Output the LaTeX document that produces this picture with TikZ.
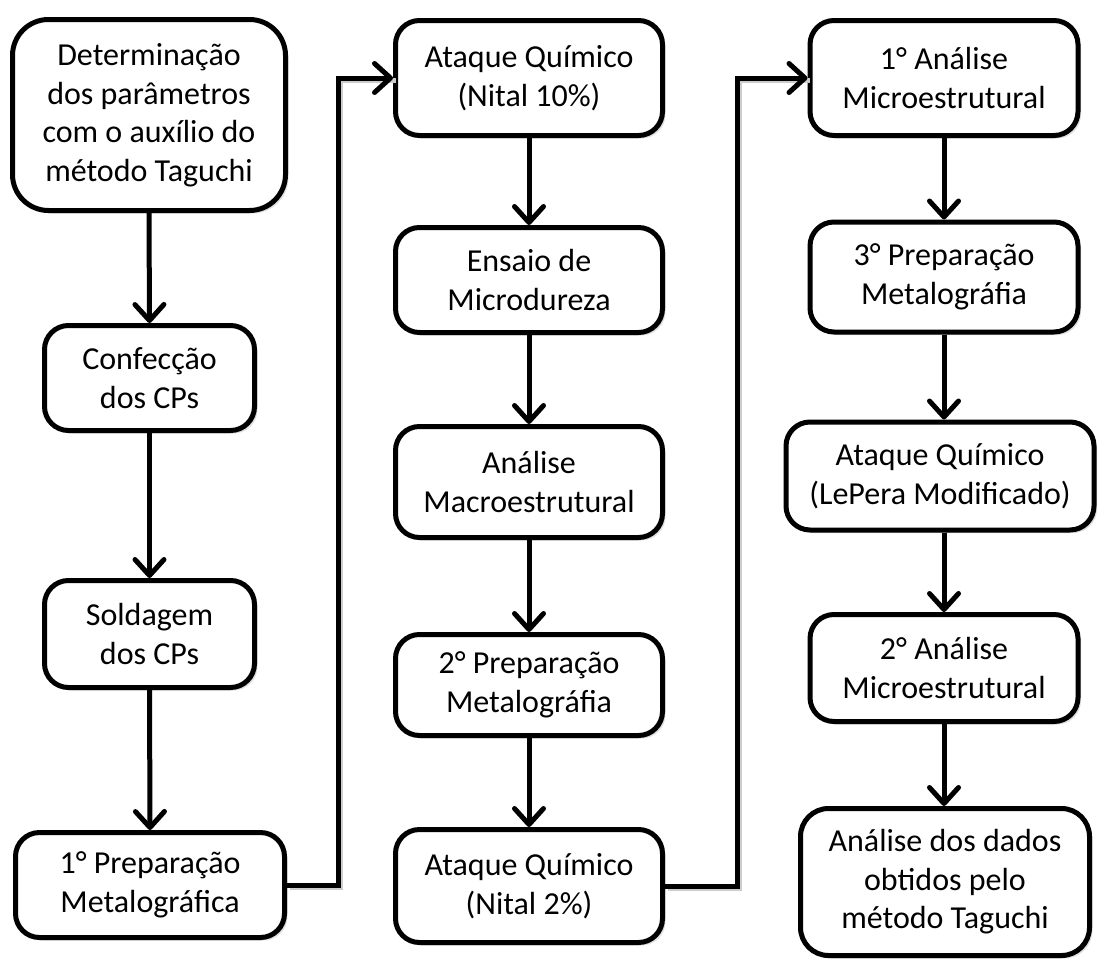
\documentclass[tikz,border=0pt]{standalone}
\usepackage{fontspec}
\setmainfont{Carlito}
\usetikzlibrary{arrows.meta,shadows}
\begin{document}
\begin{tikzpicture}[x=1pt,y=-1pt,
  stepbox/.style={draw=black, line width=5pt, fill=white, rounded corners=24pt,
    align=center, inner sep=0pt, font=\fontsize{32}{38.5}\selectfont,
    drop shadow={shadow xshift=3pt,shadow yshift=-3pt,opacity=0.25}},
  arr/.style={line width=5pt, line join=miter,
    -{Straight Barb[length=16pt,width=29pt,round]}},
  shd/.style={line width=5pt, draw=black!20, line join=miter,
    transform canvas={shift={(2.5pt,-2.5pt)}}}]
\useasboundingbox (0,0) rectangle (1100,961);
\fill[white] (0,0) rectangle (1100,961);
% column 1
\node[stepbox, rounded corners=36pt, minimum width=273pt, minimum height=191pt] (A) at (149,115)
  {Determinação\\dos parâmetros\\com o auxílio do\\método Taguchi};
\node[stepbox, minimum width=210pt, minimum height=105pt] (B) at (149.5,378) {Confecção\\dos CPs};
\node[stepbox, minimum width=210pt, minimum height=107pt] (C) at (149.5,634) {Soldagem\\dos CPs};
\node[stepbox, minimum width=269pt, minimum height=105pt] (D) at (150,885) {1° Preparação\\Metalográfica};
% column 2
\node[stepbox, minimum width=267pt, minimum height=115pt] (E) at (529,78) {Ataque Químico\\(Nital 10\%)};
\node[stepbox, minimum width=267pt, minimum height=105pt] (F) at (529,280) {Ensaio de\\Microdureza};
\node[stepbox, minimum width=267pt, minimum height=111pt] (G) at (529,482) {Análise\\Macroestrutural};
\node[stepbox, minimum width=267pt, minimum height=101pt] (H) at (529,685) {2° Preparação\\Metalográfia};
\node[stepbox, minimum width=267pt, minimum height=113pt] (I) at (529,886) {Ataque Químico\\(Nital 2\%)};
% column 3
\node[stepbox, minimum width=268pt, minimum height=115pt] (J) at (944,78) {1° Análise\\Microestrutural};
\node[stepbox, minimum width=268pt, minimum height=110pt] (K) at (944,277) {3° Preparação\\Metalográfia};
\node[stepbox, minimum width=308pt, minimum height=108pt] (L) at (940,476) {Ataque Químico\\(LePera Modificado)};
\node[stepbox, minimum width=268pt, minimum height=107pt] (M) at (944,668) {2° Análise\\Microestrutural};
\node[stepbox, rounded corners=28pt, minimum width=289pt, minimum height=147pt] (N) at (945,882)
  {Análise dos dados\\obtidos pelo\\método Taguchi};
% bend coordinates
\coordinate (c1) at (338,0);
\coordinate (c2) at (737,0);
% shadows of connectors
\draw[shd] (D.east) -- (D.east -| c1) -- (E.west -| c1) -- (E.west);
\draw[shd] (I.east) -- (I.east -| c2) -- (J.west -| c2) -- (J.west);
% connectors
\draw[arr] (A.south) -- (B.north);
\draw[arr] (B.south) -- (C.north);
\draw[arr] (C.south) -- (D.north);
\draw[arr] (D.east) -- (D.east -| c1) -- (E.west -| c1) -- (E.west);
\draw[arr] (E.south) -- (F.north);
\draw[arr] (F.south) -- (G.north);
\draw[arr] (G.south) -- (H.north);
\draw[arr] (H.south) -- (I.north);
\draw[arr] (I.east) -- (I.east -| c2) -- (J.west -| c2) -- (J.west);
\draw[arr] (J.south) -- (K.north);
\draw[arr] (K.south) -- (L.north -| K.south);
\draw[arr] (L.south -| M.north) -- (M.north);
\draw[arr] (M.south) -- (N.north -| M.south);
\end{tikzpicture}
\end{document}
